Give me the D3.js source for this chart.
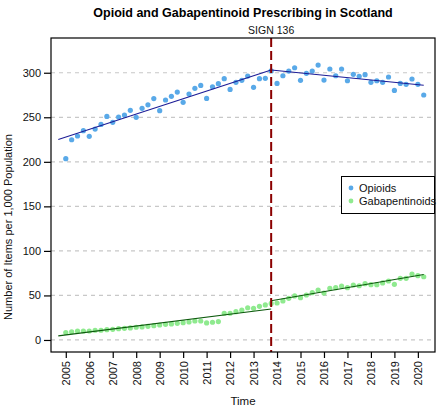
<!DOCTYPE html>
<html>
<head>
<meta charset="utf-8">
<script src="https://cdn.jsdelivr.net/npm/d3@7"></script>
<style>
  html, body { margin: 0; padding: 0; background: #fff; }
  svg { display: block; font-family: "Liberation Sans", Arial, sans-serif; }
</style>
</head>
<body>
<svg id="chart" width="440" height="406"></svg>
<script>
// ---- data (quarterly, 2005 Q1 .. 2020 Q2) ----
const startYear = 2005;
const quartersPerYear = 4;
const opioids = [
  203.5, 224.8, 229.0, 235.0, 228.6, 236.8, 242.0, 251.0,
  244.3, 250.3, 252.5, 257.8, 250.0, 260.0, 264.0, 271.0,
  257.4, 269.4, 273.5, 278.3, 266.8, 276.0, 282.5, 285.8,
  271.2, 284.3, 287.7, 293.3, 281.3, 289.2, 291.5, 296.3,
  283.6, 293.3, 293.7, 302.0, 288.0, 296.6, 301.9, 305.6,
  291.5, 299.3, 301.9, 308.6, 291.8, 304.2, 296.6, 304.2,
  291.0, 298.2, 296.0, 297.8, 289.2, 291.0, 289.2, 295.2,
  280.2, 288.0, 287.0, 293.0, 287.0, 275.0
];
const gabapentinoids = [
  8.4, 9.2, 10.0, 10.1, 10.1, 10.9, 10.9, 11.6,
  12.0, 12.7, 13.1, 13.5, 14.3, 14.6, 15.3, 16.0,
  16.8, 17.6, 18.0, 18.7, 19.4, 20.2, 21.3, 21.3,
  19.1, 19.9, 20.6, 30.0, 30.0, 31.8, 33.5, 36.2,
  35.6, 37.8, 39.3, 41.0, 41.5, 43.8, 46.8, 49.4,
  47.5, 50.5, 53.1, 56.1, 52.7, 58.0, 58.7, 60.6,
  58.7, 61.7, 60.9, 63.2, 62.1, 62.1, 64.0, 66.2,
  62.5, 69.2, 69.2, 74.0, 72.2, 71.0
];
// segmented-regression trend lines: [time, value]
const opioidTrendPre  = [[2004.68, 225.0], [2013.75, 303.0]];
const opioidTrendPost = [[2013.75, 303.0], [2020.25, 286.0]];
const gabaTrendPre    = [[2004.68, 4.6],   [2013.75, 34.8]];
const gabaTrendPost   = [[2013.75, 44.0],  [2020.25, 73.5]];
const interventionTime = 2013.75;
const interventionLabel = "SIGN 136";
const xTicks = [2005, 2006, 2007, 2008, 2009, 2010, 2011, 2012, 2013, 2014, 2015, 2016, 2017, 2018, 2019, 2020];
const yTicks = [0, 50, 100, 150, 200, 250, 300];
const seriesNames = ["Opioids", "Gabapentinoids"];
const title = "Opioid and Gabapentinoid Prescribing in Scotland";
const xLabel = "Time";
const yLabel = "Number of Items per 1,000 Population";

// time of each observation (quarter index -> decimal year)
const times = opioids.map((_, i) => startYear + i / quartersPerYear);

// ---- layout ----
const svg = d3.select("#chart");
const pL = 51, pR = 435, pT = 38, pB = 352;
const x = d3.scaleLinear().domain([2004.37, 2020.73]).range([pL, pR]);
const y = d3.scaleLinear().domain([-13.5, 339]).range([pB, pT]);

const colOpi = "#59a9e8", colGab = "#8fea8f";
const colOpiLine = "#1c1c96", colGabLine = "#0d5a0d";

// grid lines
svg.append("g").selectAll("line").data(yTicks).join("line")
  .attr("x1", pL).attr("x2", pR)
  .attr("y1", d => y(d)).attr("y2", d => y(d))
  .attr("stroke", "#c8c8c8").attr("stroke-width", 1.2)
  .attr("stroke-dasharray", "4,4");

// points
svg.append("g").selectAll("circle").data(opioids).join("circle")
  .attr("cx", (d, i) => x(times[i])).attr("cy", d => y(d))
  .attr("r", 2.6).attr("fill", colOpi);
svg.append("g").selectAll("circle").data(gabapentinoids).join("circle")
  .attr("cx", (d, i) => x(times[i])).attr("cy", d => y(d))
  .attr("r", 2.6).attr("fill", colGab);

// trend lines
const line = d3.line().x(d => x(d[0])).y(d => y(d[1]));
[[opioidTrendPre, colOpiLine], [opioidTrendPost, colOpiLine],
 [gabaTrendPre, colGabLine], [gabaTrendPost, colGabLine]].forEach(([seg, c]) => {
  svg.append("path").datum(seg).attr("d", line)
    .attr("fill", "none").attr("stroke", c).attr("stroke-width", 1.1);
});

// intervention line
svg.append("line")
  .attr("x1", x(interventionTime)).attr("x2", x(interventionTime))
  .attr("y1", pT).attr("y2", pB)
  .attr("stroke", "#8b0000").attr("stroke-width", 2)
  .attr("stroke-dasharray", "9,4");
svg.append("text")
  .attr("x", x(interventionTime)).attr("y", 34)
  .attr("text-anchor", "middle").attr("font-size", 10.5).attr("fill", "#111")
  .text(interventionLabel);

// frame
svg.append("rect").attr("x", pL).attr("y", pT)
  .attr("width", pR - pL).attr("height", pB - pT)
  .attr("fill", "none").attr("stroke", "#000").attr("stroke-width", 1.2);

// axes
const xAxis = svg.append("g").attr("transform", `translate(0,${pB})`)
  .call(d3.axisBottom(x).tickValues(xTicks).tickFormat(d3.format("d")).tickSize(6).tickSizeOuter(0));
xAxis.select(".domain").remove();
xAxis.selectAll("text")
  .attr("transform", "rotate(-90)")
  .attr("text-anchor", "end")
  .attr("x", -9).attr("y", 0).attr("dy", "0.35em")
  .attr("font-size", 11).attr("fill", "#111")
  .style("font-family", "Liberation Sans, Arial, sans-serif");
xAxis.selectAll("line").attr("stroke", "#000").attr("stroke-width", 1.2);

const yAxis = svg.append("g").attr("transform", `translate(${pL},0)`)
  .call(d3.axisLeft(y).tickValues(yTicks).tickSize(7).tickSizeOuter(0));
yAxis.select(".domain").remove();
yAxis.selectAll("text").attr("font-size", 11).attr("fill", "#111").attr("x", -10)
  .style("font-family", "Liberation Sans, Arial, sans-serif");
yAxis.selectAll("line").attr("stroke", "#000").attr("stroke-width", 1.2);

// titles
svg.append("text").attr("x", (pL + pR) / 2).attr("y", 17)
  .attr("text-anchor", "middle").attr("font-size", 12.5).attr("font-weight", "bold")
  .attr("fill", "#000").text(title);
svg.append("text").attr("x", 243).attr("y", 405)
  .attr("text-anchor", "middle").attr("font-size", 11.5).attr("fill", "#111").text(xLabel);
svg.append("text").attr("transform", "translate(12,227) rotate(-90)")
  .attr("text-anchor", "middle").attr("font-size", 11).attr("fill", "#111").text(yLabel);

// legend
const lg = svg.append("g");
lg.append("rect").attr("x", 341.5).attr("y", 176.5).attr("width", 93).attr("height", 37)
  .attr("fill", "#fff").attr("stroke", "#000").attr("stroke-width", 1);
[[seriesNames[0], colOpi], [seriesNames[1], colGab]].forEach(([name, c], i) => {
  const cy = 188 + i * 13;
  lg.append("circle").attr("cx", 351).attr("cy", cy).attr("r", 2.4).attr("fill", c);
  lg.append("text").attr("x", 359).attr("y", cy).attr("dy", "0.35em")
    .attr("font-size", 11).attr("fill", "#111").text(name);
});
</script>
</body>
</html>
